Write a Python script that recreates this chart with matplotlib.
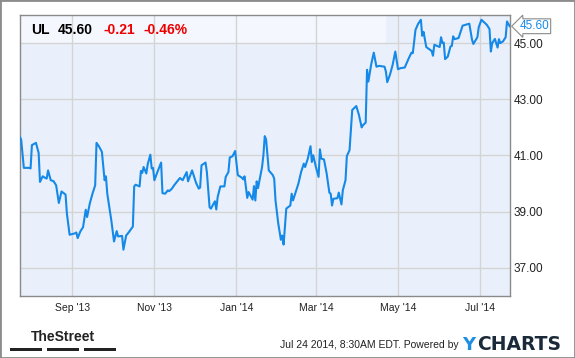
import matplotlib
matplotlib.use('Agg')
import matplotlib.pyplot as plt
import matplotlib.dates as mdates
from matplotlib.patches import Rectangle
import pandas as pd

# daily close (UL, Jul 2013 - Jul 2014)
dates = [
    '2013-07-24', '2013-07-25', '2013-07-27', '2013-07-31', '2013-08-01', '2013-08-02', '2013-08-05',
    '2013-08-07', '2013-08-08', '2013-08-10', '2013-08-12', '2013-08-13', '2013-08-14', '2013-08-16',
    '2013-08-18', '2013-08-20', '2013-08-22', '2013-08-24', '2013-08-27', '2013-08-28', '2013-08-30',
    '2013-09-03', '2013-09-04', '2013-09-05', '2013-09-07', '2013-09-09', '2013-09-11', '2013-09-12',
    '2013-09-14', '2013-09-16', '2013-09-18', '2013-09-19', '2013-09-21', '2013-09-23', '2013-09-25',
    '2013-09-26', '2013-09-27', '2013-09-30', '2013-10-02', '2013-10-04', '2013-10-05', '2013-10-08',
    '2013-10-09', '2013-10-11', '2013-10-13', '2013-10-16', '2013-10-17', '2013-10-18', '2013-10-21',
    '2013-10-22', '2013-10-23', '2013-10-24', '2013-10-26', '2013-10-27', '2013-10-29', '2013-10-30',
    '2013-10-31', '2013-11-01', '2013-11-03', '2013-11-06', '2013-11-07', '2013-11-09', '2013-11-11',
    '2013-11-12', '2013-11-14', '2013-11-16', '2013-11-20', '2013-11-22', '2013-11-25', '2013-11-26',
    '2013-11-29', '2013-12-02', '2013-12-04', '2013-12-05', '2013-12-06', '2013-12-09', '2013-12-10',
    '2013-12-12', '2013-12-13', '2013-12-16', '2013-12-17', '2013-12-18', '2013-12-20', '2013-12-23',
    '2013-12-24', '2013-12-26', '2013-12-27', '2013-12-29', '2013-12-31', '2014-01-02', '2014-01-05',
    '2014-01-06', '2014-01-07', '2014-01-09', '2014-01-10', '2014-01-12', '2014-01-13', '2014-01-14',
    '2014-01-15', '2014-01-16', '2014-01-17', '2014-01-20', '2014-01-21', '2014-01-22', '2014-01-23',
    '2014-01-25', '2014-01-28', '2014-01-29', '2014-01-30', '2014-02-01', '2014-02-03', '2014-02-04',
    '2014-02-05', '2014-02-07', '2014-02-10', '2014-02-11', '2014-02-12', '2014-02-13', '2014-02-16',
    '2014-02-18', '2014-02-20', '2014-02-21', '2014-02-23', '2014-02-25', '2014-02-26', '2014-02-27',
    '2014-03-01', '2014-03-03', '2014-03-04', '2014-03-05', '2014-03-07', '2014-03-09', '2014-03-11',
    '2014-03-12', '2014-03-13', '2014-03-14', '2014-03-17', '2014-03-18', '2014-03-20', '2014-03-21',
    '2014-03-23', '2014-03-24', '2014-03-26', '2014-03-28', '2014-03-31', '2014-04-02', '2014-04-04',
    '2014-04-05', '2014-04-07', '2014-04-08', '2014-04-09', '2014-04-11', '2014-04-13', '2014-04-15',
    '2014-04-17', '2014-04-21', '2014-04-22', '2014-04-23', '2014-04-25', '2014-04-27', '2014-04-29',
    '2014-05-01', '2014-05-03', '2014-05-06', '2014-05-09', '2014-05-11', '2014-05-12', '2014-05-14',
    '2014-05-16', '2014-05-18', '2014-05-19', '2014-05-20', '2014-05-22', '2014-05-26', '2014-05-27',
    '2014-05-28', '2014-05-31', '2014-06-01', '2014-06-02', '2014-06-03', '2014-06-04', '2014-06-05',
    '2014-06-07', '2014-06-09', '2014-06-10', '2014-06-11', '2014-06-12', '2014-06-15', '2014-06-18',
    '2014-06-20', '2014-06-23', '2014-06-25', '2014-06-26', '2014-06-29', '2014-06-30', '2014-07-02',
    '2014-07-06', '2014-07-08', '2014-07-09', '2014-07-10', '2014-07-12', '2014-07-14', '2014-07-15',
    '2014-07-16', '2014-07-18', '2014-07-20', '2014-07-21', '2014-07-23',
]
prices = [
    41.66, 41.57, 40.56, 40.56, 40.54, 41.37, 41.45,
    41.09, 40.06, 40.26, 40.20, 40.18, 40.47, 40.12,
    40.09, 39.94, 39.31, 39.72, 39.61, 38.93, 38.18,
    38.23, 38.26, 38.06, 38.30, 38.45, 39.07, 38.81,
    39.29, 39.64, 39.94, 41.45, 41.31, 41.13, 40.12,
    40.26, 39.64, 38.69, 37.94, 38.31, 38.12, 38.14,
    37.65, 38.15, 38.27, 38.47, 39.90, 39.96, 39.90,
    40.45, 40.38, 40.59, 40.36, 40.68, 41.03, 40.54,
    40.56, 40.12, 40.38, 40.75, 39.66, 39.64, 39.76,
    39.73, 39.82, 39.96, 40.20, 40.12, 40.41, 40.08,
    40.47, 40.02, 39.82, 39.86, 40.65, 40.75, 40.41,
    39.16, 39.11, 39.37, 39.08, 39.52, 39.90, 39.90,
    40.24, 40.41, 40.93, 40.97, 41.16, 40.30, 40.21,
    40.15, 40.26, 39.49, 39.70, 39.52, 39.43, 39.91,
    39.40, 40.08, 39.84, 40.59, 41.01, 41.69, 41.57,
    40.47, 40.30, 40.18, 39.40, 38.59, 38.00, 38.15,
    37.83, 39.11, 39.22, 39.64, 39.40, 39.55, 40.00,
    40.41, 40.71, 40.59, 40.89, 41.33, 40.77, 41.01,
    40.59, 40.24, 41.22, 40.89, 40.86, 40.36, 39.68,
    39.64, 39.22, 39.46, 39.48, 39.68, 39.26, 39.76,
    40.12, 40.98, 41.19, 42.62, 42.76, 42.44, 42.00,
    42.08, 42.17, 44.05, 43.63, 44.22, 44.66, 44.16,
    44.19, 44.16, 43.99, 43.61, 43.87, 44.22, 44.70,
    44.07, 44.11, 44.13, 44.46, 44.66, 44.64, 45.47,
    45.69, 45.83, 45.26, 45.40, 44.86, 44.72, 44.55,
    44.94, 44.88, 44.86, 45.21, 45.00, 45.02, 44.43,
    44.52, 44.88, 44.90, 45.24, 45.14, 45.18, 45.62,
    45.65, 45.69, 45.12, 44.97, 45.21, 45.57, 45.83,
    45.65, 45.50, 44.70, 45.00, 45.15, 44.84, 45.14,
    45.00, 45.06, 45.21, 45.77, 45.60,
]

ticker = 'UL'
last_price = '45.60'
change = '-0.21'
change_pct = '-0.46%'
y_ticks = [37, 39, 41, 43, 45]
x_ticks = ['2013-09-01', '2013-11-01', '2014-01-01', '2014-03-01', '2014-05-01', '2014-07-01']
stamp = 'Jul 24 2014, 8:30AM EDT. Powered by'

LINE = '#1589e8'
BG = '#eaf0fb'

plt.rcParams['font.family'] = ['Liberation Sans', 'DejaVu Sans']

W, H = 575, 358
fig = plt.figure(figsize=(W / 100, H / 100), dpi=100)
fig.patch.set_facecolor('white')


def fx(px):
    return px / W


def fy(py):
    return 1 - py / H


ax = fig.add_axes([fx(19.8), fy(296), (509.7 - 19.8) / W, (296 - 15) / H])
ax.set_facecolor(BG)

x = pd.to_datetime(dates)
ax.plot(x, prices, color=LINE, lw=1.5, zorder=3, solid_joinstyle='round')

ax.set_xlim(pd.Timestamp('2013-07-24'), pd.Timestamp('2014-07-23'))
ax.set_ylim(36.0, 46.0)

ax.set_yticks(y_ticks)
ax.set_yticklabels([f'{v:.2f}' for v in y_ticks])
ax.yaxis.tick_right()
ax.set_xticks(pd.to_datetime(x_ticks))
ax.xaxis.set_major_formatter(mdates.DateFormatter("%b '%y"))
ax.tick_params(axis='y', length=0, pad=3, labelsize=8.5, labelcolor='#222222')
ax.tick_params(axis='x', length=0, pad=5, labelsize=7.5, labelcolor='#222222')

ax.set_axisbelow(True)
ax.grid(True, color='#d4d4d4', lw=1)
for s in ax.spines.values():
    s.set_color('#8a8a8a')
    s.set_linewidth(1)

# lighter header strip behind the quote
ax.add_patch(Rectangle((0, (45 - 36) / 10), (386 - 19.8) / 490, 1 - (45 - 36) / 10,
                       transform=ax.transAxes, facecolor='#f4f7fd', edgecolor='none', zorder=0.4))

fig.text(fx(31), fy(34), ticker, fontsize=10, fontweight='bold', color='black')
fig.text(fx(58), fy(34), last_price, fontsize=10, fontweight='bold', color='black')
fig.text(fx(103), fy(34), change, fontsize=10, fontweight='bold', color='#ee0000')
fig.text(fx(144), fy(34), change_pct, fontsize=10, fontweight='bold', color='#ee0000')

# last price tag on the right axis
ax.annotate(last_price, xy=(x[-1], prices[-1]), xycoords='data',
            xytext=(1.02, prices[-1]), textcoords=('axes fraction', 'data'),
            ha='left', va='center', fontsize=8.5, color=LINE,
            bbox=dict(boxstyle='larrow,pad=0.12', fc='white', ec='#8a8a8a', lw=0.8),
            annotation_clip=False, zorder=5)

# footer
fig.text(fx(63), fy(341), 'TheStreet', fontsize=10, fontweight='bold', color='#222222',
         ha='center', va='baseline')
for x0, x1 in [(10, 42), (47, 79), (84, 116)]:
    fig.add_artist(Rectangle((fx(x0), fy(350.5)), (x1 - x0) / W, 3 / H,
                             transform=fig.transFigure, fc='#222222', ec='none'))
fig.text(fx(459), fy(348), stamp, fontsize=7.5, color='#222222', ha='right', va='baseline')
fig.text(fx(462), fy(350.5), 'Y', fontsize=13, fontweight='bold', color='#1f8fe5',
         ha='left', va='baseline', family='DejaVu Sans')
fig.text(fx(477), fy(350.5), 'CHARTS', fontsize=13.5, fontweight='bold', color='#1b2a3a',
         ha='left', va='baseline', family='DejaVu Sans')

fig.add_artist(Rectangle((0, 0), 1, 1, transform=fig.transFigure, fill=False,
                         ec='#8c8c8c', lw=2))

fig.savefig('out.png', dpi=100)
